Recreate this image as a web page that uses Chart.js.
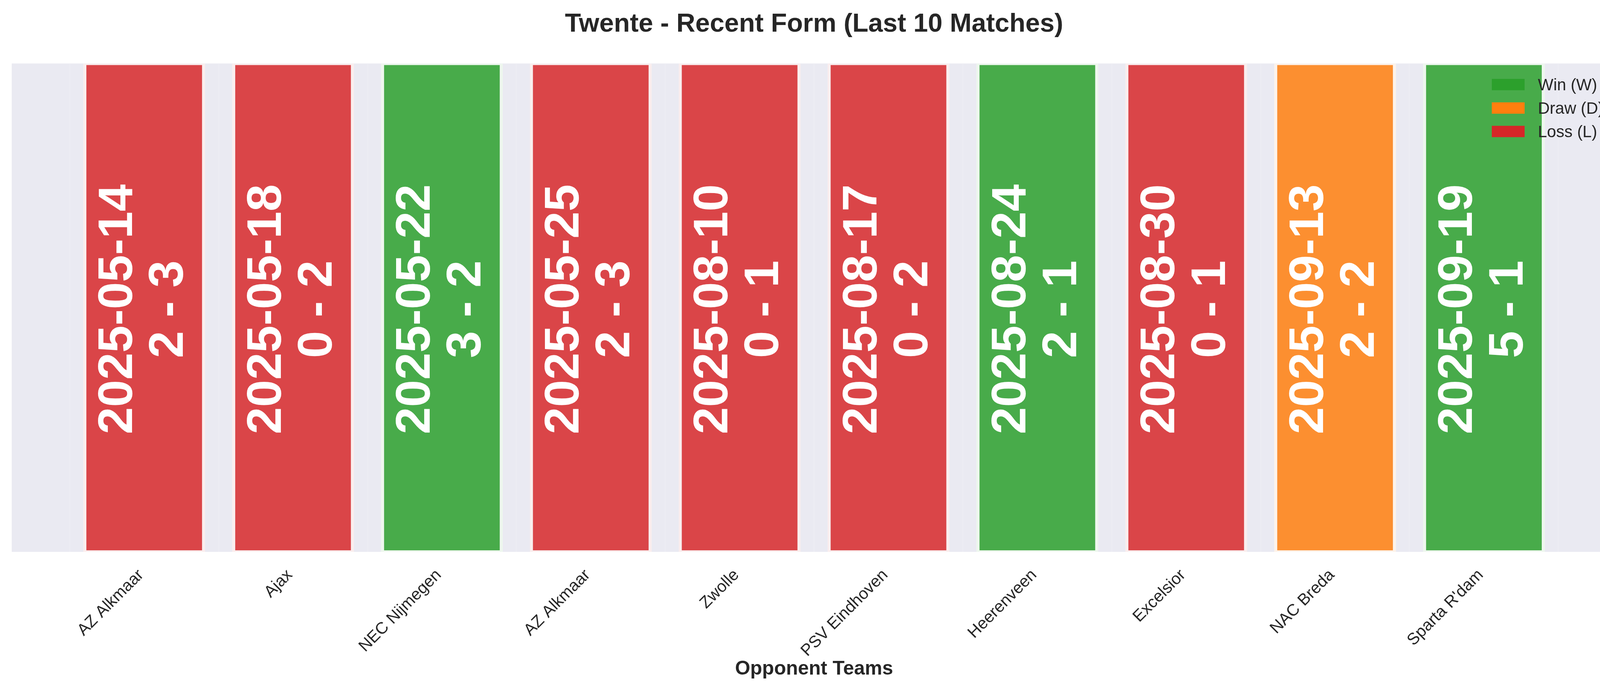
<!DOCTYPE html>
<html>
<head>
<meta charset="utf-8">
<script src="https://cdn.jsdelivr.net/npm/chart.js@4.4.0/dist/chart.umd.min.js"></script>
<style>
  html, body { margin: 0; padding: 0; background: #ffffff; overflow: hidden; }
  #wrap { width: 4170px; height: 1768px; }
</style>
</head>
<body>
<div id="wrap"><canvas id="c" width="4170" height="1768"></canvas></div>
<script>
// ---- data ----
const opponents = ['AZ Alkmaar', 'Ajax', 'NEC Nijmegen', 'AZ Alkmaar', 'Zwolle', 'PSV Eindhoven', 'Heerenveen', 'Excelsior', 'NAC Breda', "Sparta R'dam"];
const matchDates = ['2025-05-14', '2025-05-18', '2025-05-22', '2025-05-25', '2025-08-10', '2025-08-17', '2025-08-24', '2025-08-30', '2025-09-13', '2025-09-19'];
const scores = ['2 - 3', '0 - 2', '3 - 2', '2 - 3', '0 - 1', '0 - 2', '2 - 1', '0 - 1', '2 - 2', '5 - 1'];
const results = ['L', 'L', 'W', 'L', 'L', 'L', 'W', 'L', 'D', 'W'];
const barValues = [1, 1, 1, 1, 1, 1, 1, 1, 1, 1];
const legendLabels = ['Win (W)', 'Draw (D)', 'Loss (L)'];
const legendKeys = ['W', 'D', 'L'];

// ---- styles ----
const fillColor = { W: '#48AB4A', D: '#FC8F30', L: '#DA4548' };
const edgeColor = { W: '#EEF7EE', D: '#FDF3EA', L: '#FAEEEE' };
const legendColor = { W: '#2ca02c', D: '#ff7f0e', L: '#d62728' };
const TEXT = '#262626';
const FONT = "'Liberation Sans', Arial, Helvetica, sans-serif";

const bgPlugin = {
  id: 'bg',
  beforeDraw(chart) {
    const { ctx, chartArea: a } = chart;
    ctx.save();
    ctx.fillStyle = '#ffffff';
    ctx.fillRect(0, 0, chart.width, chart.height);
    ctx.fillStyle = '#EAEAF2';
    ctx.fillRect(a.left, a.top, a.right - a.left, a.bottom - a.top);
    ctx.restore();
  }
};

const barTextPlugin = {
  id: 'barText',
  afterDraw(chart) {
    const { ctx, chartArea: a } = chart;
    const meta = chart.getDatasetMeta(0);
    const cy = (a.top + a.bottom) / 2 + 4;
    ctx.save();
    ctx.fillStyle = '#ffffff';
    ctx.font = "bold 125px " + FONT;
    ctx.textAlign = 'center';
    ctx.textBaseline = 'alphabetic';
    meta.data.forEach((el, i) => {
      ctx.save();
      ctx.translate(el.x, cy);
      ctx.rotate(-Math.PI / 2);
      ctx.fillText(matchDates[i], 0, -31);
      ctx.fillText(scores[i], 0, 99);
      ctx.restore();
    });
    ctx.restore();
  }
};

const legendPlugin = {
  id: 'customLegend',
  afterDraw(chart) {
    const { ctx, chartArea: a } = chart;
    ctx.save();
    ctx.font = "42px " + FONT;
    ctx.textBaseline = 'alphabetic';
    ctx.textAlign = 'left';
    legendKeys.forEach((k, i) => {
      const cyy = a.top + 54 + i * 60;
      ctx.fillStyle = legendColor[k];
      ctx.fillRect(a.right - 319, cyy - 14.5, 84, 29);
      ctx.fillStyle = TEXT;
      ctx.fillText(legendLabels[i], a.right - 201, cyy + 15);
    });
    ctx.restore();
  }
};

const ctx = document.getElementById('c').getContext('2d');
new Chart(ctx, {
  type: 'bar',
  data: {
    datasets: [{
      data: barValues.map((v, i) => ({ x: i, y: v })),
      backgroundColor: results.map(r => fillColor[r]),
      borderColor: results.map(r => edgeColor[r]),
      borderWidth: { left: 8, right: 8, top: 4, bottom: 4 },
      borderSkipped: false,
      barPercentage: 0.819,
      categoryPercentage: 1.0
    }]
  },
  options: {
    responsive: false,
    devicePixelRatio: 1,
    animation: false,
    layout: { padding: { left: 30, right: 32, top: 0, bottom: 0 } },
    plugins: {
      legend: { display: false },
      tooltip: { enabled: false },
      title: {
        display: true,
        text: 'Twente - Recent Form (Last 10 Matches)',
        color: TEXT,
        font: { family: FONT, size: 67, weight: 'bold', lineHeight: 1.2 },
        padding: { top: 22, bottom: 60 }
      }
    },
    scales: {
      x: {
        type: 'linear',
        min: -0.89,
        max: 9.89,
        offset: false,
        z: 1,
        grid: { color: 'rgba(255,255,255,0.12)', lineWidth: 4, drawTicks: false },
        border: { display: false },
        afterFit(scale) { scale.height = 356; },
        ticks: {
          stepSize: 1,
          includeBounds: false,
          autoSkip: false,
          minRotation: 45,
          maxRotation: 45,
          padding: 35,
          labelOffset: -8,
          color: TEXT,
          font: { family: FONT, size: 42 },
          callback: (v) => (Number.isInteger(v) && opponents[v] !== undefined) ? opponents[v] : ''
        },
        title: {
          display: true,
          text: 'Opponent Teams',
          color: TEXT,
          font: { family: FONT, size: 50, weight: 'bold', lineHeight: 1.2 },
          padding: { top: 0, bottom: 26 }
        }
      },
      y: {
        display: false,
        min: 0,
        max: 1
      }
    }
  },
  plugins: [bgPlugin, barTextPlugin, legendPlugin]
});
</script>
</body>
</html>
